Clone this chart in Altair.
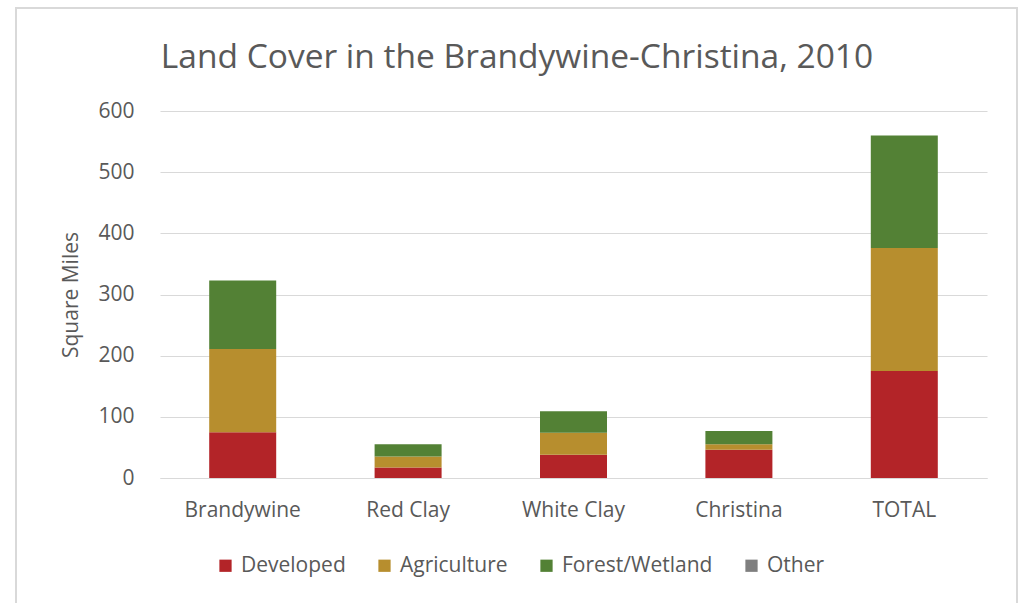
import altair as alt
import pandas as pd

# Watersheds and land-cover areas (square miles)
regions = ["Brandywine", "Red Clay", "White Clay", "Christina", "TOTAL"]
developed = [75, 17, 38, 46, 175]
agriculture = [136, 18, 36, 9, 201]
forest_wetland = [112, 20, 35, 22, 184]
other = [0, 0, 0, 0, 0]

cover_types = ["Developed", "Agriculture", "Forest/Wetland", "Other"]
cover_colors = ["#B32428", "#B78E2E", "#538135", "#7F7F7F"]

title_text = "Land Cover in the Brandywine-Christina, 2010"

rows = []
for series, name in zip([developed, agriculture, forest_wetland, other], cover_types):
    for region, value in zip(regions, series):
        rows.append({"Region": region, "Cover": name, "Area": value,
                     "Order": cover_types.index(name)})
df = pd.DataFrame(rows)
single = pd.DataFrame({"label": [title_text]})

FONT = "Open Sans"
TEXT = "#595959"
GRID = "#D9D9D9"

bars = alt.Chart(df).mark_bar(size=67).encode(
    x=alt.X("Region:N", sort=regions, title=None,
            scale=alt.Scale(paddingInner=0.6, paddingOuter=0.3),
            axis=alt.Axis(labelAngle=0, ticks=False, domainColor=GRID,
                          labelPadding=21, labelFontSize=21, labelColor=TEXT,
                          labelFont=FONT)),
    y=alt.Y("Area:Q", title="Square Miles", stack="zero",
            scale=alt.Scale(domain=[0, 600], nice=False),
            axis=alt.Axis(values=[0, 100, 200, 300, 400, 500, 600], ticks=False,
                          domain=False, gridColor=GRID, labelPadding=26,
                          labelFontSize=21, labelColor=TEXT, labelFont=FONT,
                          titleFontSize=21, titleColor=TEXT, titleFont=FONT,
                          titleFontWeight="normal", titlePadding=16)),
    color=alt.Color("Cover:N", sort=cover_types,
                    scale=alt.Scale(domain=cover_types, range=cover_colors),
                    legend=alt.Legend(title=None, orient="none", direction="horizontal",
                                      legendX=55, legendY=444, symbolType="square",
                                      symbolSize=150, symbolStrokeWidth=0,
                                      labelFontSize=21, labelColor=TEXT, labelFont=FONT,
                                      labelOffset=5, columnPadding=28)),
    order=alt.Order("Order:Q"),
)

# Light frame around the whole chart
frame = alt.Chart(single).mark_rect(fill="transparent", stroke=GRID, strokeWidth=2).encode(
    x=alt.value(-144), x2=alt.value(857), y=alt.value(-103), y2=alt.value(510)
)

# Chart heading
heading = alt.Chart(single).mark_text(
    font=FONT, fontSize=33.5, color=TEXT, align="center", baseline="middle"
).encode(text="label:N", x=alt.value(357), y=alt.value(-53))

chart = alt.layer(frame, bars, heading).properties(
    width=827,
    height=367,
    autosize=alt.AutoSizeParams(type="none"),
    padding={"left": 160, "top": 111, "right": 34, "bottom": 125},
).configure(background="white", view=alt.ViewConfig(stroke=None))

chart.save("out.html", embed_options={"renderer": "svg", "actions": False})
